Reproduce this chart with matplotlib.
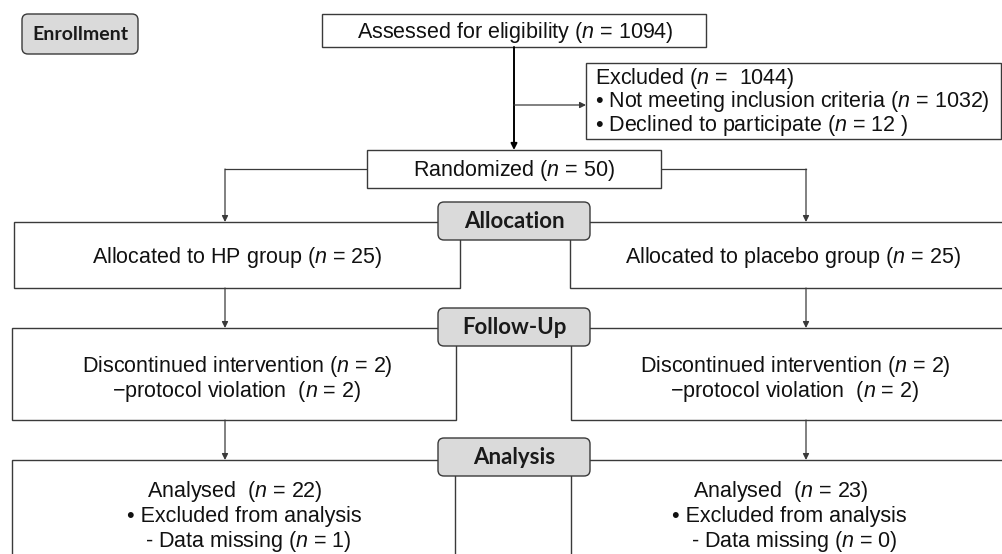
import matplotlib
matplotlib.use("Agg")
import matplotlib.pyplot as plt
from matplotlib.patches import Rectangle, FancyBboxPatch

plt.rcParams['font.family'] = ['Liberation Sans', 'DejaVu Sans']
plt.rcParams['mathtext.fontset'] = 'custom'
plt.rcParams['mathtext.rm'] = 'Liberation Sans'
plt.rcParams['mathtext.it'] = 'Liberation Sans:italic'

N = r'$\it{n}$'

# counts
assessed = 1094
excluded = 1044
not_meeting = 1032
declined = 12
randomized = 50
allocated = [25, 25]
discontinued = [2, 2]
protocol = [2, 2]
analysed = [22, 23]
data_missing = [1, 0]
groups = ['HP', 'placebo']
stages = ['Allocation', 'Follow-Up', 'Analysis']

LINE = '#3a3a3a'
FILL = '#dadada'

fig = plt.figure(figsize=(10.03, 5.54), dpi=100)
ax = fig.add_axes([0, 0, 1, 1])
ax.set_xlim(0, 1003)
ax.set_ylim(554, 0)
ax.axis('off')


def box(x0, y0, x1, y1, lw=1.0):
    ax.add_patch(Rectangle((x0, y0), x1 - x0, y1 - y0, fill=True, fc='white',
                           ec=LINE, lw=lw, zorder=2))


def label(x0, y0, x1, y1, txt, size=16):
    ax.add_patch(FancyBboxPatch((x0, y0), x1 - x0, y1 - y0,
                                boxstyle='round,pad=0,rounding_size=6',
                                fc=FILL, ec=LINE, lw=1.0, zorder=4))
    ax.text((x0 + x1) / 2, (y0 + y1) / 2 + 1, txt, ha='center', va='center',
            fontsize=size, fontweight='bold', family=['Lato', 'DejaVu Sans'],
            color='#1a1a1a', zorder=5)


def arrow(x, y0, y1):
    ax.annotate('', xy=(x, y1), xytext=(x, y0),
                arrowprops=dict(arrowstyle='-|>', color=LINE, lw=0.9,
                                mutation_scale=9, shrinkA=0, shrinkB=0), zorder=3)


def txt(x, y, s, size=15.5, ha='center'):
    ax.text(x, y + 1.5, s, ha=ha, va='center', fontsize=size, color='#111111', zorder=3)


# enrollment
label(22, 14, 138, 54, 'Enrollment', size=14)
box(322, 14, 706, 47)
txt(515, 31, f'Assessed for eligibility ({N} = {assessed})')

ax.annotate('', xy=(514, 150), xytext=(514, 47),
            arrowprops=dict(arrowstyle='-|>', color='black', lw=1.4,
                            mutation_scale=9, shrinkA=0, shrinkB=0), zorder=3)
ax.annotate('', xy=(586, 105), xytext=(514, 105),
            arrowprops=dict(arrowstyle='-|>', color=LINE, lw=0.9,
                            mutation_scale=9, shrinkA=0, shrinkB=0), zorder=3)

box(586, 63, 1001, 139)
ex_lines = [f'Excluded ({N} =  {excluded})',
            f'\u2022 Not meeting inclusion criteria ({N} = {not_meeting})',
            f'\u2022 Declined to participate ({N} = {declined} )']
for i, t in enumerate(ex_lines):
    txt(595, 77 + i * 23.5, t, ha='left')

box(367, 150, 661, 188)
txt(514, 169, f'Randomized ({N} = {randomized})')

cols = [(225, 14, 460), (806, 570, 1003)]
ax.plot([225, 367], [169, 169], color=LINE, lw=0.9, zorder=1)
ax.plot([661, 806], [169, 169], color=LINE, lw=0.9, zorder=1)

rows = [(222, 288), (328, 420), (460, 560)]
label_y = [(202, 240), (308, 346), (438, 476)]
# horizontal text centres per line: alloc, disc, analysed, excluded, missing
centres = [[237, 237, 235, 244, 248], [793, 795, 781, 789, 794]]

for g, (cx, x0, x1) in enumerate(cols):
    c = centres[g]
    arrow(cx, 169, rows[0][0])
    box(x0, rows[0][0], x1, rows[0][1])
    txt(c[0], 256, f'Allocated to {groups[g]} group ({N} = {allocated[g]})')
    arrow(cx, rows[0][1], rows[1][0])
    box(x0 - (2 if g == 0 else -1), rows[1][0], x1 - (4 if g == 0 else 0), rows[1][1])
    txt(c[1], 365, f'Discontinued intervention ({N} = {discontinued[g]})')
    txt(c[1], 390, f'\u2212protocol violation  ({N} = {protocol[g]})')
    arrow(cx, rows[1][1], rows[2][0])
    box(x0 - (2 if g == 0 else -1), rows[2][0], x1 - (5 if g == 0 else 0), rows[2][1])
    txt(c[2], 490, f'Analysed  ({N} = {analysed[g]})')
    txt(c[3], 515, '\u2022 Excluded from analysis')
    txt(c[4], 540, f'- Data missing ({N} = {data_missing[g]})')

for s, (y0, y1) in zip(stages, label_y):
    label(438, y0, 590, y1, s)

fig.savefig('out.png', dpi=100)
